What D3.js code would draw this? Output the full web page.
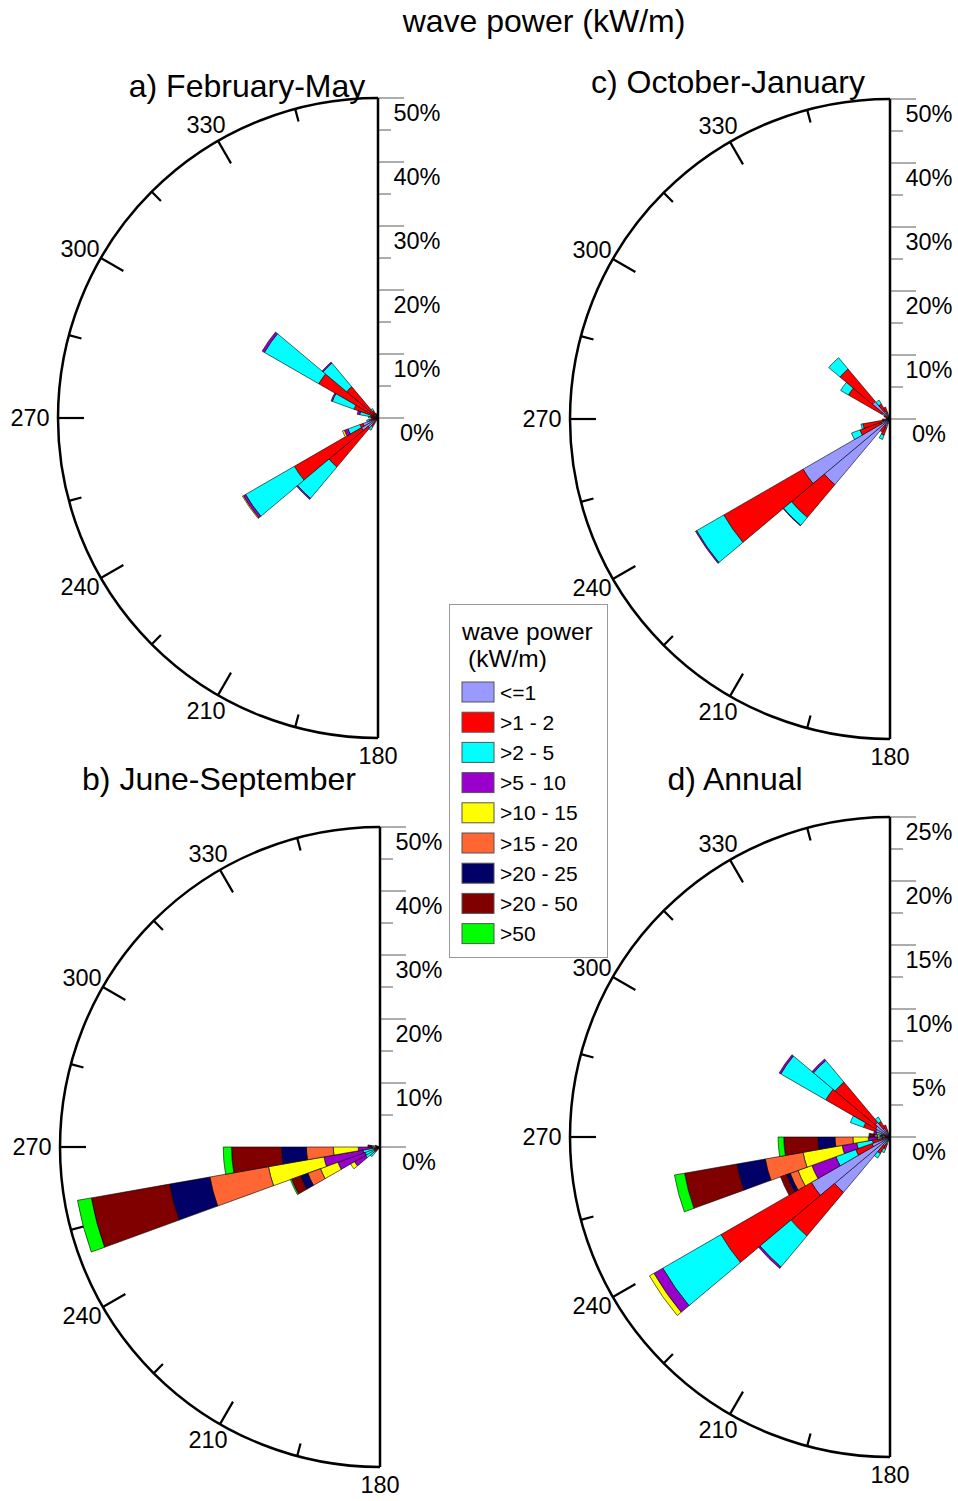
<!DOCTYPE html>
<html>
<head>
<meta charset="utf-8">
<script src="https://cdn.jsdelivr.net/npm/d3@7"></script>
<style>
  body { margin: 0; background: #fff; }
  text { font-family: "Liberation Sans", Arial, Helvetica, sans-serif; fill: #000; }
</style>
</head>
<body>
<svg id="chart" width="958" height="1501"></svg>
<script>
// Wave power classes (kW/m) and their colours
const classes = ["<=1", ">1 - 2", ">2 - 5", ">5 - 10", ">10 - 15", ">15 - 20", ">20 - 25", ">20 - 50", ">50"];
const classColors = ["#9999ff", "#ff0000", "#00ffff", "#9900cc", "#ffff00", "#ff6633", "#000066", "#800000", "#00ff00"];

// Direction bins are 10 degrees wide; dir = start of the bin (degrees from north)
const binWidth = 10;

// Frequency (%) per direction bin, one value per class, innermost class first
const febMay = [
  { dir: 210, v: [1.0, 0.6, 0.6] },
  { dir: 220, v: [2.0, 8.0, 6.4, 0.2] },
  { dir: 230, v: [3.0, 12.1, 8.8, 0.4, 0.15] },
  { dir: 240, v: [2.5, 0.5, 2.0, 0.6, 0.3] },
  { dir: 250, v: [0.6, 0.8, 0.4] },
  { dir: 260, v: [0.5, 0.5] },
  { dir: 270, v: [0.5, 0.6, 0.4] },
  { dir: 280, v: [0.4, 0.8, 1.7, 0.4] },
  { dir: 290, v: [0.6, 3.4, 3.6, 0.2] },
  { dir: 300, v: [0.8, 9.9, 9.8, 0.4] },
  { dir: 310, v: [0.8, 5.6, 4.8, 0.2] },
  { dir: 320, v: [0.5, 0.8, 0.4] },
  { dir: 330, v: [0.4, 0.4] }
];

const juneSep = [
  { dir: 220, v: [0.5, 0.5, 1.0] },
  { dir: 230, v: [0.4, 0.6, 1.6, 2.0, 0.7] },
  { dir: 240, v: [0.4, 0.6, 1.5, 4.5, 2.9, 2.1, 1.2, 1.5, 0.2] },
  { dir: 250, v: [0.4, 0.5, 1.8, 6.2, 8.8, 9.3, 6.4, 12.4, 2.2] },
  { dir: 260, v: [0.3, 0.3, 0.6, 2.2, 3.9, 4.2, 3.9, 7.8, 1.3] },
  { dir: 270, v: [0.1, 0.1, 0.2, 0.3, 0.3, 0.3, 0.2, 0.3, 0.1] },
  { dir: 280, v: [0.1, 0.2, 0.3, 0.2] }
];

const octJan = [
  { dir: 200, v: [1.5, 1.2, 0.7] },
  { dir: 210, v: [1.2, 1.2] },
  { dir: 220, v: [13.4, 6.7, 1.6, 0.1] },
  { dir: 230, v: [15.7, 14.3, 4.9, 0.2] },
  { dir: 240, v: [1.5, 3.5, 1.4] },
  { dir: 250, v: [1.0, 3.3, 0.3] },
  { dir: 260, v: [0.5, 0.7] },
  { dir: 270, v: [0.3, 0.3] },
  { dir: 290, v: [0.5, 0.5] },
  { dir: 300, v: [1.5, 6.0, 1.4] },
  { dir: 310, v: [3.6, 6.6, 2.3] },
  { dir: 320, v: [1.5, 1.2, 0.7] },
  { dir: 330, v: [1.0, 1.0] }
];

const annual = [
  { dir: 200, v: [0.6, 0.4, 0.3] },
  { dir: 210, v: [0.8, 0.7, 0.4] },
  { dir: 220, v: [5.65, 4.45, 3.15, 0.15] },
  { dir: 230, v: [7.1, 8.15, 5.25, 0.8, 0.4] },
  { dir: 240, v: [1.5, 1.35, 1.65, 2.0, 1.15, 0.65, 0.3, 0.5] },
  { dir: 250, v: [0.6, 0.8, 1.25, 1.15, 3.1, 3.0, 2.25, 4.15, 0.8] },
  { dir: 260, v: [0.3, 0.3, 0.4, 0.7, 1.2, 1.4, 1.35, 2.65, 0.45] },
  { dir: 270, v: [0.2, 0.2, 0.2, 0.2, 0.2, 0.2, 0.1, 0.3, 0.05] },
  { dir: 280, v: [0.4, 0.3, 0.4, 0.2] },
  { dir: 290, v: [1.2, 1.0, 1.1] },
  { dir: 300, v: [1.3, 4.5, 4.05, 0.15] },
  { dir: 310, v: [1.5, 4.1, 2.2, 0.15] },
  { dir: 320, v: [0.8, 0.6, 0.4] },
  { dir: 330, v: [0.5, 0.5] }
];

// Axis ticks
const pctTicks50 = [0, 10, 20, 30, 40, 50];
const pctTicks25 = [0, 5, 10, 15, 20, 25];
const dirTicks = [195, 210, 225, 240, 255, 270, 285, 300, 315, 330, 345];
const dirLabels = [180, 210, 240, 270, 300, 330];

const mainTitle = "wave power (kW/m)";
const legendTitle = ["wave power", "(kW/m)"];

// Panel layout
const panels = [
  { title: "a) February-May",    rows: febMay,  ticks: pctTicks50, cx: 378, cy: 418,  tx: 247, ty: 97 },
  { title: "c) October-January", rows: octJan,  ticks: pctTicks50, cx: 890, cy: 419,  tx: 728, ty: 93 },
  { title: "b) June-September",  rows: juneSep, ticks: pctTicks50, cx: 380, cy: 1147, tx: 219, ty: 790 },
  { title: "d) Annual",          rows: annual,  ticks: pctTicks25, cx: 890, cy: 1137, tx: 735, ty: 790 }
];
const R = 320;
const rad = Math.PI / 180;

const svg = d3.select("#chart");

svg.append("text")
  .attr("x", 544).attr("y", 32)
  .attr("text-anchor", "middle")
  .style("font-size", "32px")
  .text(mainTitle);

const stack = d3.stack()
  .keys(d3.range(classes.length))
  .value((d, k) => d.v[k] || 0);

panels.forEach(p => {
  const g = svg.append("g").attr("transform", `translate(${p.cx},${p.cy})`);
  const r = d3.scaleLinear().domain([0, d3.max(p.ticks)]).range([0, R]);

  // stacked petals
  const series = stack(p.rows);
  const arc = d3.arc()
    .innerRadius(d => r(d[0]))
    .outerRadius(d => r(d[1]))
    .startAngle(d => d.data.dir * rad)
    .endAngle(d => (d.data.dir + binWidth) * rad);

  series.forEach((s, k) => {
    g.append("g").selectAll("path")
      .data(s.filter(d => d[1] > d[0]))
      .join("path")
      .attr("d", arc)
      .attr("fill", classColors[k])
      .attr("stroke", "#000")
      .attr("stroke-width", 0.6);
  });

  // outer half circle (180 -> 270 -> 360)
  const path = d3.path();
  path.moveTo(0, R);
  path.arc(0, 0, R, Math.PI / 2, 3 * Math.PI / 2, false);
  g.append("path").attr("d", path.toString())
    .attr("fill", "none").attr("stroke", "#000").attr("stroke-width", 2.5);

  // direction ticks pointing inward
  g.selectAll(".dtick").data(dirTicks).join("line")
    .attr("x1", d => R * Math.sin(d * rad))
    .attr("y1", d => -R * Math.cos(d * rad))
    .attr("x2", d => (R - (d % 30 === 0 ? 26 : 13)) * Math.sin(d * rad))
    .attr("y2", d => -(R - (d % 30 === 0 ? 26 : 13)) * Math.cos(d * rad))
    .attr("stroke", "#000").attr("stroke-width", 2.2);

  g.selectAll(".dlab").data(dirLabels).join("text")
    .attr("x", d => (R + (d === 270 ? 28 : 24)) * Math.sin(d * rad))
    .attr("y", d => -(R + 18) * Math.cos(d * rad))
    .attr("text-anchor", "middle")
    .attr("dominant-baseline", "central")
    .style("font-size", "23.5px")
    .text(d => d);

  // radial percentage axis
  const step = p.ticks[1] - p.ticks[0];
  const minor = p.ticks.slice(0, -1).map(t => t + step / 2);
  g.selectAll(".mt").data(minor).join("line")
    .attr("x1", 0).attr("x2", 13)
    .attr("y1", d => -r(d)).attr("y2", d => -r(d))
    .attr("stroke", "#808080").attr("stroke-width", 1.3);
  g.selectAll(".Mt").data(p.ticks).join("line")
    .attr("x1", 0).attr("x2", 26)
    .attr("y1", d => -r(d)).attr("y2", d => -r(d))
    .attr("stroke", "#808080").attr("stroke-width", 1.3);
  g.selectAll(".pl").data(p.ticks).join("text")
    .attr("x", 39).attr("y", d => -r(d) + 23)
    .attr("text-anchor", "middle")
    .style("font-size", "23.5px")
    .text(d => d + "%");

  g.append("line")
    .attr("x1", 0).attr("x2", 0).attr("y1", -R).attr("y2", R)
    .attr("stroke", "#000").attr("stroke-width", 2.5);

  svg.append("text")
    .attr("x", p.tx).attr("y", p.ty)
    .attr("text-anchor", "middle")
    .style("font-size", "32px")
    .text(p.title);
});

// legend
const lg = svg.append("g");
lg.append("rect")
  .attr("x", 449.5).attr("y", 604.5).attr("width", 158).attr("height", 353)
  .attr("fill", "#fff").attr("stroke", "#999").attr("stroke-width", 1);
lg.append("text").attr("x", 462).attr("y", 640).style("font-size", "24.5px").text(legendTitle[0]);
lg.append("text").attr("x", 468).attr("y", 667).style("font-size", "24.5px").text(legendTitle[1]);
const items = lg.selectAll(".li").data(classes).join("g")
  .attr("transform", (d, i) => `translate(462,${682 + i * 30.2})`);
items.append("rect")
  .attr("width", 32).attr("height", 20)
  .attr("fill", (d, i) => classColors[i])
  .attr("stroke", "#555").attr("stroke-width", 1);
items.append("text")
  .attr("x", 38).attr("y", 10)
  .attr("dominant-baseline", "central")
  .style("font-size", "21px")
  .text(d => d);
</script>
</body>
</html>
